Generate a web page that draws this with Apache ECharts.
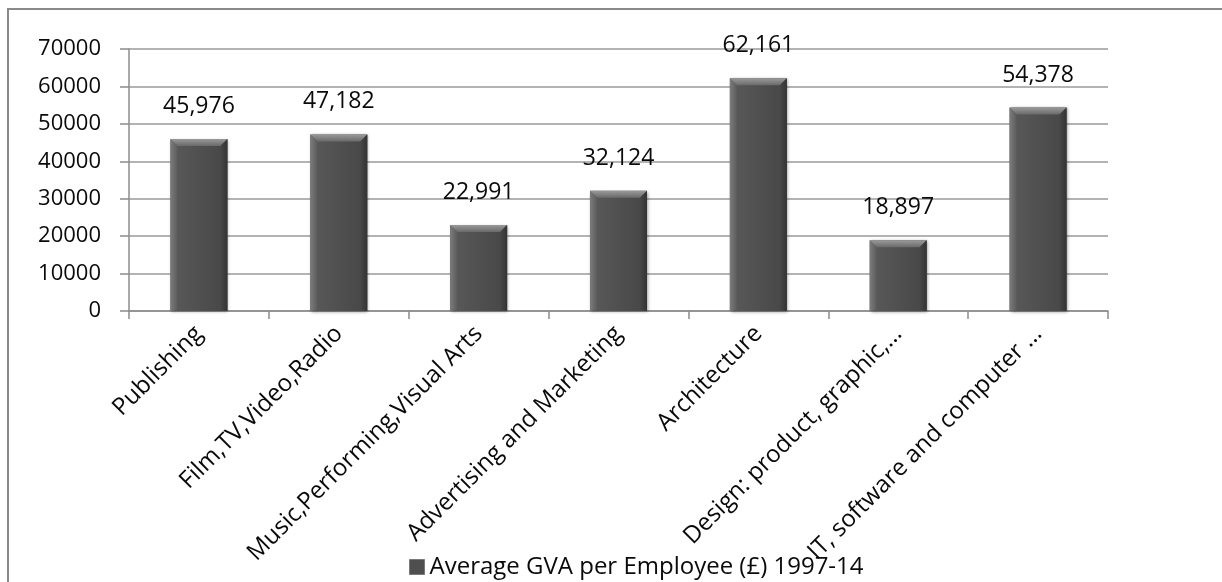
<!DOCTYPE html>
<html>
<head>
<meta charset="utf-8">
<title>Average GVA per Employee</title>
<script src="https://cdn.jsdelivr.net/npm/echarts@6/dist/echarts.min.js"></script>
<style>
  html, body { margin: 0; padding: 0; background: #fff; }
  #chart { width: 1222px; height: 582px; }
</style>
</head>
<body>
<div id="chart"></div>
<script>
// Creative-industry sub-sectors and their average GVA per employee
const categories = [
  'Publishing',
  'Film,TV,Video,Radio',
  'Music,Performing,Visual Arts',
  'Advertising and Marketing',
  'Architecture',
  'Design: product, graphic,\u2026',
  'IT, software and computer \u2026'
];
const gvaPerEmployee = [45976, 47182, 22991, 32124, 62161, 18897, 54378];
const seriesName = 'Average GVA per Employee (\u00a3) 1997-14';
const yTicks = { min: 0, max: 70000, interval: 10000 };

const FONT = '"Open Sans", "Liberation Sans", sans-serif';
const BAR_WIDTH = 57;
const BEVEL = 7;

const barFill = new echarts.graphic.LinearGradient(0, 0, 1, 0, [
  { offset: 0, color: '#5a5a5a' },
  { offset: 0.5, color: '#505050' },
  { offset: 1, color: '#464646' }
]);

// Bevel facets drawn over each bar, positioned from the same values via the axes
function renderBevel(params, api) {
  const idx = api.value(0);
  const top = api.coord([idx, api.value(1)]);
  const base = api.coord([idx, 0]);
  const half = BAR_WIDTH / 2;
  const x0 = top[0] - half, x1 = top[0] + half;
  const y0 = top[1], y1 = base[1];
  const b = Math.min(BEVEL, (y1 - y0) / 2);
  return {
    type: 'group',
    children: [
      { // top facet (lit)
        type: 'polygon',
        shape: { points: [[x0, y0], [x1, y0], [x1 - b, y0 + b], [x0 + b, y0 + b]] },
        style: { fill: new echarts.graphic.LinearGradient(0, 0, 0, 1, [
          { offset: 0, color: '#9a9a9a' }, { offset: 1, color: '#6a6a6a' }]) }
      },
      { // left facet
        type: 'polygon',
        shape: { points: [[x0, y0], [x0 + b, y0 + b], [x0 + b, y1 - 1], [x0, y1]] },
        style: { fill: new echarts.graphic.LinearGradient(0, 0, 1, 0, [
          { offset: 0, color: '#7c7c7c' }, { offset: 1, color: '#5c5c5c' }]) }
      },
      { // right facet (shaded)
        type: 'polygon',
        shape: { points: [[x1, y0], [x1 - b, y0 + b], [x1 - b, y1 - 1], [x1, y1]] },
        style: { fill: new echarts.graphic.LinearGradient(0, 0, 1, 0, [
          { offset: 0, color: '#474747' }, { offset: 1, color: '#333333' }]) }
      }
    ]
  };
}

const chart = echarts.init(document.getElementById('chart'), null, { renderer: 'canvas' });
chart.setOption({
  backgroundColor: '#ffffff',
  animation: false,
  textStyle: { fontFamily: FONT },
  graphic: [{
    type: 'rect',
    shape: { x: 8, y: 9, width: 1400, height: 800 },
    style: { fill: 'none', stroke: '#8a8a8a', lineWidth: 2 },
    z: -10,
    silent: true
  }],
  grid: { left: 129, right: 114, top: 49, bottom: 271, containLabel: false },
  legend: {
    data: [seriesName],
    top: 550,
    left: 404,
    itemWidth: 15,
    itemHeight: 15,
    icon: 'rect',
    itemStyle: { color: '#4f4f4f', borderColor: '#7a7a7a', borderWidth: 1 },
    textStyle: { fontSize: 24, color: '#0a0a0a', fontFamily: FONT }
  },
  xAxis: {
    type: 'category',
    data: categories,
    axisLine: { lineStyle: { color: '#8c8c8c', width: 1.5 } },
    axisTick: { show: true, length: 8, alignWithLabel: false, lineStyle: { color: '#8c8c8c', width: 1.5 } },
    axisLabel: {
      interval: 0,
      rotate: 45,
      margin: 19,
      fontSize: 24,
      color: '#0a0a0a',
      fontFamily: FONT
    }
  },
  yAxis: {
    type: 'value',
    min: yTicks.min,
    max: yTicks.max,
    interval: yTicks.interval,
    axisLine: { show: true, lineStyle: { color: '#8c8c8c', width: 1.5 } },
    axisTick: { show: true, length: 9, inside: false, lineStyle: { color: '#8c8c8c', width: 1.5 } },
    splitLine: { lineStyle: { color: '#9a9a9a', width: 1.5 } },
    axisLabel: {
      margin: 28,
      fontSize: 22,
      color: '#0a0a0a',
      fontFamily: FONT,
      formatter: v => String(v)
    }
  },
  series: [
    {
      name: seriesName,
      type: 'bar',
      data: gvaPerEmployee,
      barWidth: BAR_WIDTH,
      itemStyle: {
        color: barFill,
        shadowColor: 'rgba(0,0,0,0.4)',
        shadowBlur: 3,
        shadowOffsetX: 1,
        shadowOffsetY: 1
      },
      label: {
        show: true,
        position: 'top',
        distance: 21,
        fontSize: 23,
        color: '#0a0a0a',
        fontFamily: FONT,
        formatter: p => p.value.toLocaleString('en-US')
      }
    },
    {
      name: 'bevel',
      type: 'custom',
      renderItem: renderBevel,
      data: gvaPerEmployee.map((v, i) => [i, v]),
      encode: { x: 0, y: 1 },
      silent: true,
      z: 3
    }
  ]
});
</script>
</body>
</html>
